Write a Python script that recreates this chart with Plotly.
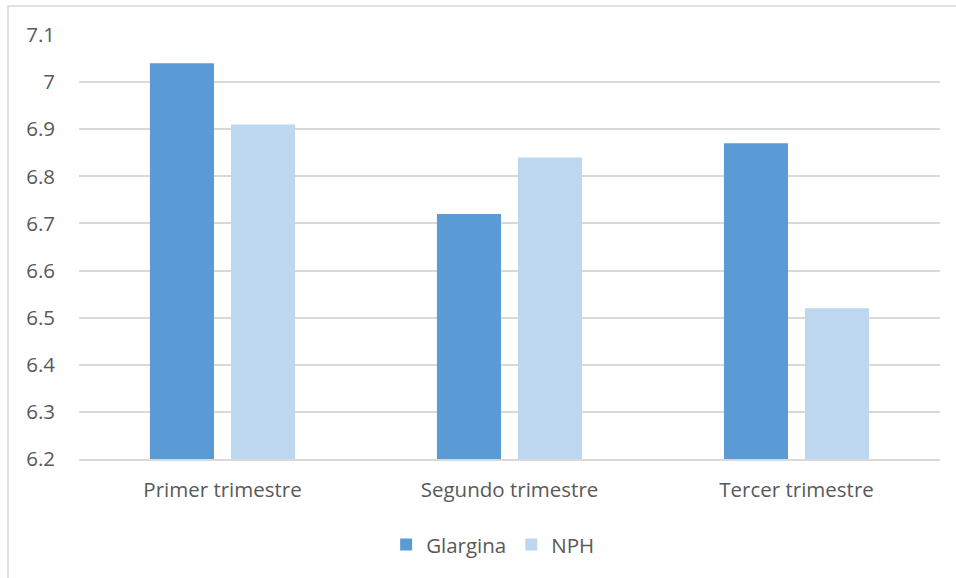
import plotly.graph_objects as go

# Trimestre categories and mean values per insulin group
categories = ["Primer trimestre", "Segundo trimestre", "Tercer trimestre"]
glargina = [7.04, 6.72, 6.87]
nph = [6.91, 6.84, 6.52]
y_ticks = [6.2, 6.3, 6.4, 6.5, 6.6, 6.7, 6.8, 6.9, 7.0, 7.1]
y_tick_labels = ["6.2", "6.3", "6.4", "6.5", "6.6", "6.7", "6.8", "6.9", "7", "7.1"]

FONT = "'Open Sans', Lato, sans-serif"
TEXT = "#595959"
FS = 20.5

fig = go.Figure()
fig.add_trace(go.Bar(name="Glargina", x=categories, y=glargina,
                     marker=dict(color="#5b9bd5", line=dict(width=0))))
fig.add_trace(go.Bar(name="NPH", x=categories, y=nph,
                     marker=dict(color="#bdd7ee", line=dict(width=0))))

W, H = 956, 578
ml, mr, mt, mb = 79, 16, 35, 119
pw, ph = W - ml - mr, H - mt - mb

fig.update_layout(
    width=W, height=H,
    margin=dict(l=ml, r=mr, t=mt, b=mb, autoexpand=False),
    paper_bgcolor="white", plot_bgcolor="white",
    barmode="group", bargap=0.435, bargroupgap=0.21,
    font=dict(family=FONT, color=TEXT, size=FS),
    xaxis=dict(showgrid=False, showline=True, linecolor="#d9d9d9", linewidth=1.5,
               ticks="", tickfont=dict(size=FS, color=TEXT), ticklabelstandoff=12,
               automargin=False),
    yaxis=dict(range=[6.2, 7.1], tickvals=y_ticks, ticktext=y_tick_labels,
               showgrid=True, gridcolor="#d9d9d9", gridwidth=1.5,
               zeroline=False, showline=False, ticks="",
               tickfont=dict(size=FS, color=TEXT), ticklabelstandoff=23,
               automargin=False),
    legend=dict(orientation="h", x=0.481, xanchor="center", y=-0.155, yanchor="top",
                font=dict(size=FS, color=TEXT), itemwidth=30,
                traceorder="normal"),
    showlegend=True,
)

# Chart-area border
fig.add_shape(type="rect", xref="paper", yref="paper",
              x0=(8 - ml) / pw, x1=(W + 20 - ml) / pw,
              y0=-(H + 20 - mt - ph) / ph, y1=1 + (mt - 6) / ph,
              line=dict(color="#d9d9d9", width=1.5), fillcolor="rgba(0,0,0,0)",
              layer="below")

fig.write_html("out.html")
